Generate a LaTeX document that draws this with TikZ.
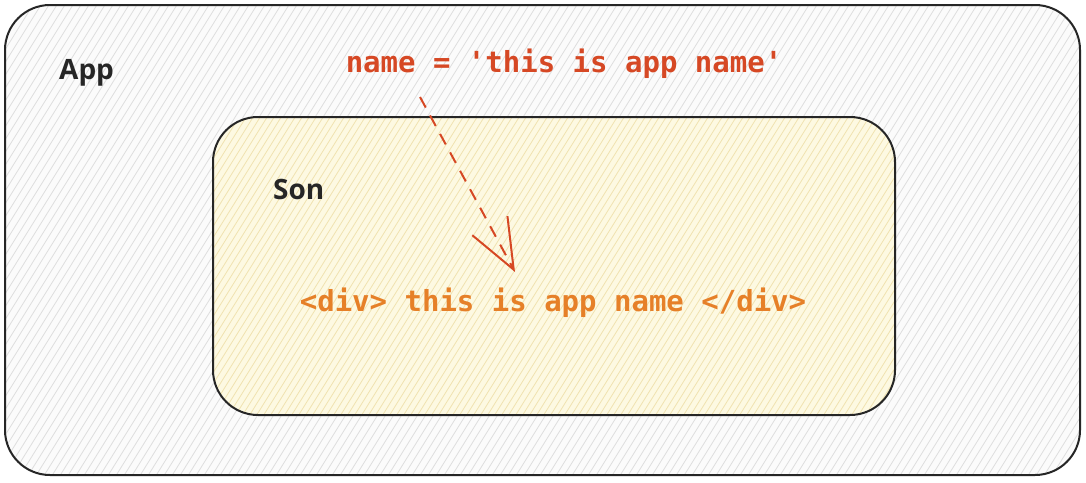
\documentclass[tikz,border=0pt]{standalone}
\usepackage{fontspec}
\setmonofont{DejaVu Sans Mono}
\setsansfont{Open Sans}
\usetikzlibrary{arrows.meta}
\definecolor{namered}{RGB}{214,72,36}
\definecolor{divorange}{RGB}{230,128,40}
\definecolor{outerfill}{RGB}{251,251,251}
\definecolor{innerfill}{RGB}{253,249,226}
\definecolor{hatchgray}{RGB}{222,222,222}
\definecolor{hatchyellow}{RGB}{240,226,176}
\tikzset{
  box/.style={line width=2pt, draw=black!85, rounded corners=45pt},
  hatch/.style={line width=0.8pt},
  codetext/.style={font=\ttfamily\bfseries\fontsize{29}{34}\selectfont, inner sep=0pt, anchor=base},
  labeltext/.style={font=\sffamily\bfseries\fontsize{28}{33}\selectfont, inner sep=0pt, anchor=base west, text=black!85},
}
\begin{document}
\begin{tikzpicture}[x=1pt,y=-1pt]
\useasboundingbox (0,0) rectangle (1086,482);
\fill[white] (0,0) rectangle (1086,482);
% outer box
\begin{scope}
\clip[rounded corners=45pt] (5,5) rectangle (1080,475);
\fill[outerfill] (5,5) rectangle (1080,475);
\foreach \x in {-320,-312,...,1090} {
  \draw[hatch, hatchgray] (\x,482) -- ++(300,-482);
}
\end{scope}
\draw[box] (5,5) rectangle (1080,475);
% inner box
\begin{scope}
\clip[rounded corners=45pt] (213,117) rectangle (895,415);
\fill[innerfill] (213,117) rectangle (895,415);
\foreach \x in {-100,-93,...,900} {
  \draw[hatch, hatchyellow] (\x,482) -- ++(300,-482);
}
\end{scope}
\draw[box] (213,117) rectangle (895,415);
% labels
\node[labeltext] (app) at (59,79) {App};
\node[labeltext] (son) at (273,199) {Son};
\node[codetext, text=namered] (name) at (564,72) {name = 'this is app name'};
\node[codetext, text=divorange] (div) at (553,311) {<div> this is app name </div>};
% arrow
\coordinate (from) at (420,97);
\coordinate (to) at (515,272);
\draw[namered, line width=2pt, dash pattern=on 12pt off 9pt,
  -{Straight Barb[length=50pt,width=40pt,line width=2pt]}] (from) -- (to);
\end{tikzpicture}
\end{document}
